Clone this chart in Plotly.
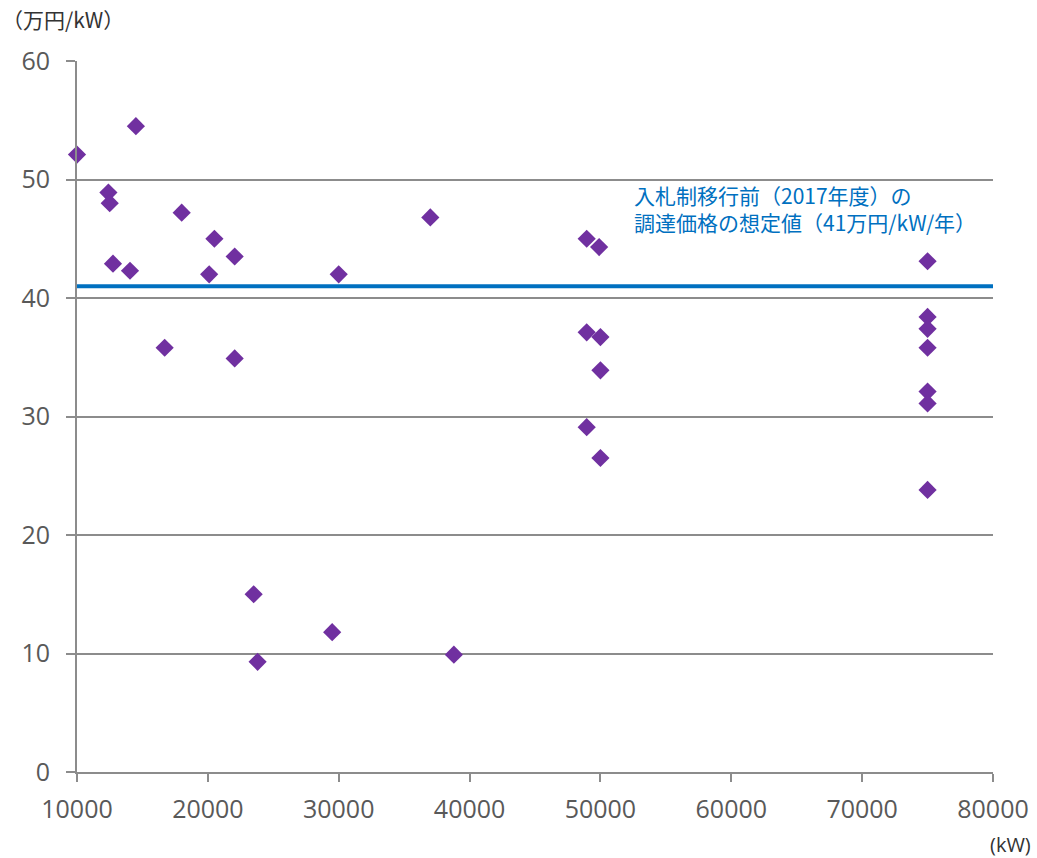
import plotly.graph_objects as go

# Plant capacity (kW) and unit price (万円/kW)
capacity_kw = [
    10000, 12400, 12500, 12750, 14050, 14500, 16700, 18000, 20100, 20500,
    22050, 22050, 23500, 23800, 29500, 30000, 37000, 38800,
    48950, 48950, 48950, 49900, 50000, 50000, 50000,
    75000, 75000, 75000, 75000, 75000, 75000, 75000,
]
price_man_yen = [
    52.1, 48.9, 48.0, 42.9, 42.3, 54.5, 35.8, 47.2, 42.0, 45.0,
    43.5, 34.9, 15.0, 9.3, 11.8, 42.0, 46.8, 9.9,
    45.0, 37.1, 29.1, 44.3, 36.7, 33.9, 26.5,
    43.1, 38.4, 37.4, 35.8, 32.1, 31.1, 23.8,
]

# Assumed procurement price before the auction system
reference_price = 41
reference_x = [10000, 80000]

x_ticks = [10000, 20000, 30000, 40000, 50000, 60000, 70000, 80000]
y_ticks = [0, 10, 20, 30, 40, 50, 60]

grey = "#8c8c8c"
tick_font = dict(family="Open Sans, Noto Sans, sans-serif", size=25, color="#595959")
jp_font = "Noto Sans CJK JP, sans-serif"

fig = go.Figure()

fig.add_trace(go.Scatter(
    x=reference_x,
    y=[reference_price] * len(reference_x),
    mode="lines",
    line=dict(color="#0070C0", width=4),
    hoverinfo="skip",
    showlegend=False,
))

fig.add_trace(go.Scatter(
    x=capacity_kw,
    y=price_man_yen,
    mode="markers",
    marker=dict(symbol="diamond", size=14, color="#7030A0", line=dict(width=0)),
    showlegend=False,
    cliponaxis=False,
))

fig.update_layout(
    width=1037,
    height=858,
    margin=dict(l=77, r=44, t=61, b=86),
    plot_bgcolor="white",
    paper_bgcolor="white",
    xaxis=dict(
        range=[10000, 80000],
        tickvals=x_ticks,
        ticktext=[str(v) for v in x_ticks],
        showgrid=False,
        zeroline=False,
        showline=True,
        linecolor=grey,
        linewidth=2,
        ticks="outside",
        ticklen=8,
        tickwidth=2,
        tickcolor=grey,
        tickfont=tick_font,
        ticklabelstandoff=6,
        automargin=False,
    ),
    yaxis=dict(
        range=[0, 60],
        tickvals=y_ticks,
        showgrid=True,
        gridcolor=grey,
        gridwidth=2,
        zeroline=False,
        showline=True,
        linecolor=grey,
        linewidth=2,
        ticks="outside",
        ticklen=9,
        tickwidth=2,
        tickcolor=grey,
        tickfont=tick_font,
        ticklabelstandoff=11,
        automargin=False,
    ),
    annotations=[
        dict(
            text="（万円/kW）",
            xref="paper", yref="paper",
            x=-77 / 916, y=1 + 59 / 711,
            xanchor="left", yanchor="top",
            showarrow=False,
            font=dict(family=jp_font, size=21, color="#333333"),
        ),
        dict(
            text="(kW)",
            xref="paper", yref="paper",
            x=1 + 40 / 916, y=-57 / 711,
            xanchor="right", yanchor="top",
            showarrow=False,
            font=dict(family="Open Sans, sans-serif", size=20, color="#333333"),
        ),
        dict(
            text="入札制移行前（2017年度）の<br>調達価格の想定値（41万円/kW/年）",
            xref="x", yref="y",
            x=52400, y=50.1,
            xanchor="left", yanchor="top",
            align="left",
            showarrow=False,
            font=dict(family=jp_font, size=21, color="#0070C0"),
        ),
    ],
)

fig.write_html("out.html")
